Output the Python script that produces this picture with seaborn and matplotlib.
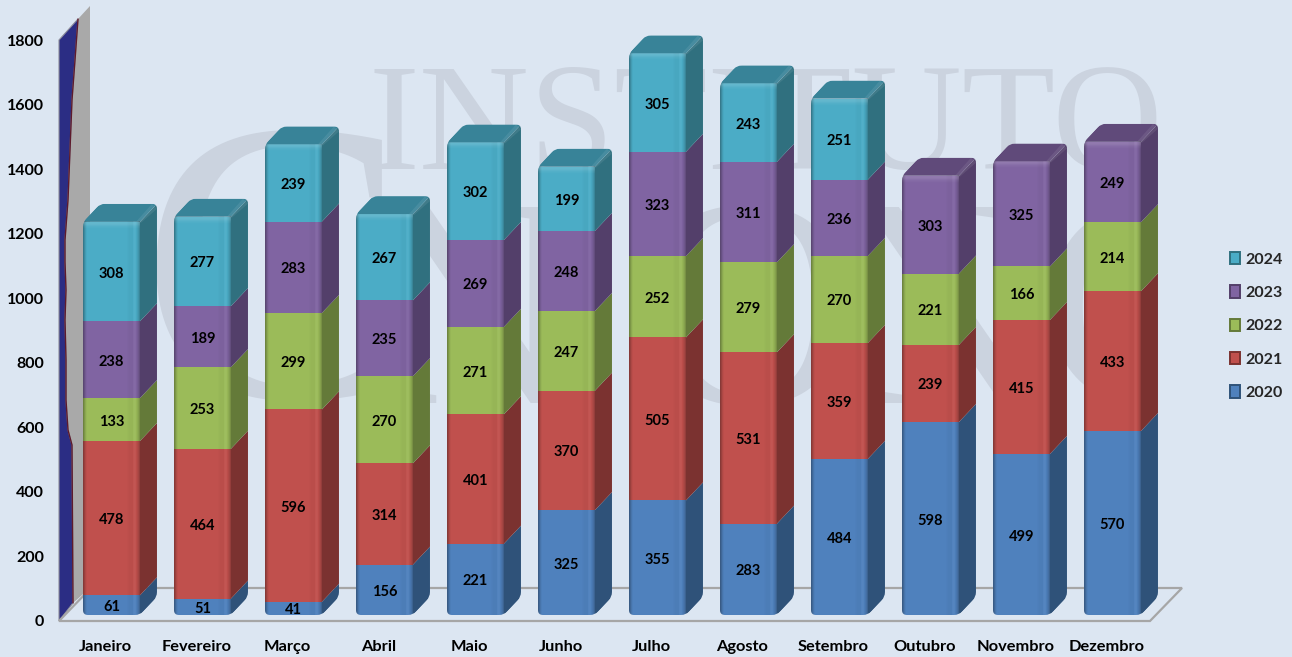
import matplotlib
matplotlib.use("Agg")
import matplotlib.pyplot as plt
from matplotlib.patches import Polygon
from matplotlib.path import Path
from matplotlib.transforms import Bbox, IdentityTransform, ScaledTranslation
import numpy as np
import seaborn as sns

meses = ["Janeiro", "Fevereiro", "Março", "Abril", "Maio", "Junho", "Julho",
         "Agosto", "Setembro", "Outubro", "Novembro", "Dezembro"]
anos = ["2020", "2021", "2022", "2023", "2024"]
v2020 = [61, 51, 41, 156, 221, 325, 355, 283, 484, 598, 499, 570]
v2021 = [478, 464, 596, 314, 401, 370, 505, 531, 359, 239, 415, 433]
v2022 = [133, 253, 299, 270, 271, 247, 252, 279, 270, 221, 166, 214]
v2023 = [238, 189, 283, 235, 269, 248, 323, 311, 236, 303, 325, 249]
v2024 = [308, 277, 239, 267, 302, 199, 305, 243, 251]  # sem dados de out a dez
series = [v2020, v2021, v2022, v2023, v2024]

frente = ["#4F81BD", "#C0504D", "#9BBB59", "#8064A2", "#4BACC6"]
lado = ["#2F5279", "#7B3230", "#647A39", "#533F6A", "#30707F"]
topo = ["#35608F", "#8F3C3A", "#748C42", "#604A7A", "#388398"]

W, H = 1292, 657
FUNDO = "#DCE6F2"
MARCA = "#CBD3DF"
DX, DY = 17, 18  # profundidade das barras em pixels


def px(x, y):
    return (x, H - y)


sns.set_theme(style="white")
plt.rcParams["font.family"] = ["Lato", "DejaVu Sans"]

fig = plt.figure(figsize=(W / 100, H / 100), dpi=100, facecolor=FUNDO)
ax = fig.add_axes([66 / W, (H - 615) / H, (1158 - 66) / W, 581 / H])
ax.set_facecolor("none")
ax.set_zorder(2)

# marca d'agua
fig.text(368 / W, (H - 169) / H, "INSTITUTO", family="Liberation Serif", fontsize=110,
         color=MARCA, zorder=0, va="baseline")
corte = Bbox([[0, 0], [1157, H]])
for letra, xp, yp, tam in [("C", 140, 397, 290), ("N", 360, 403, 215), ("O", 640, 403, 215),
                           ("N", 830, 403, 215), ("C", 1040, 403, 215)]:
    m_txt = fig.text(xp / W, (H - yp) / H, letra, family="Liberation Serif", fontsize=tam,
                     color=MARCA, zorder=0, va="baseline")
    m_txt.set_clip_box(corte)
    m_txt.set_clip_on(True)

# parede e chao do grafico 3D
borda = [(78, 19), (75, 60), (72, 100), (70, 150), (68, 200), (65, 240), (65, 262), (66, 290),
         (65, 320), (66, 360), (66, 400), (68, 430), (72, 445), (73, 603)]
tr = IdentityTransform()
ax.add_patch(Polygon([px(*p) for p in [(90, 6), (90, 588)] + borda[::-1]],
                     closed=True, fc="#A9A9A9", ec="none", transform=tr, clip_on=False, zorder=0.5))
ax.add_patch(Polygon([px(*p) for p in [(59, 621), (59, 40)] + borda],
                     closed=True, fc="#2B2D84", ec="#8D8D9A", lw=0.8, transform=tr, clip_on=False, zorder=0.6))
ax.plot(*zip(*[px(*p) for p in borda]), color="#5E1A2C", lw=1, transform=tr, clip_on=False, zorder=0.7)
ax.add_patch(Polygon([px(*p) for p in [(59, 621), (1150, 621), (1182, 588), (91, 588)]],
                     closed=True, fc="none", ec="#A6A6A6", lw=1.6, transform=tr, clip_on=False, zorder=0.8))

# barras empilhadas
acum = np.zeros(12)
for i, vals in enumerate(series):
    n = len(vals)
    sns.barplot(x=meses[:n], y=vals, order=meses, color=frente[i], saturation=1, width=0.626,
                bottom=acum[:n], label=anos[i], ax=ax, zorder=2, linewidth=0)
    rot = ax.bar_label(ax.containers[-1], label_type="center", fontsize=10.5, fontweight="bold",
                       color="black", zorder=5)
    for r in rot:
        r.set_position((0, -1.5))
    acum[:n] += vals

ax.set_xlim(-0.5, 11.5)
ax.set_ylim(0, 1800)
ax.set_yticks(range(0, 1801, 200))
ax.set_xlabel("")
ax.set_ylabel("")
sns.despine(ax=ax, left=True, bottom=True)
ax.tick_params(axis="y", length=0, pad=16, labelsize=11.5)
ax.tick_params(axis="x", length=0, pad=18, labelsize=11.8)
for t in ax.get_yticklabels():
    t.set_fontweight("bold")
    t.set_color("black")
    t.set_transform(t.get_transform() + ScaledTranslation(0, -0.06, fig.dpi_scale_trans))
for t in ax.get_xticklabels():
    t.set_fontweight("bold")
    t.set_color("black")
    t.set_transform(t.get_transform() + ScaledTranslation(-0.06, 0, fig.dpi_scale_trans))


def contorno_redondo(pts, r):
    # poligono com cantos arredondados, em pixels
    verts, codes = [], []
    n = len(pts)
    for k in range(n):
        p = np.array(pts[k], float)
        a = np.array(pts[k - 1], float)
        b = np.array(pts[(k + 1) % n], float)
        p1 = p + (a - p) / np.linalg.norm(a - p) * r
        p2 = p + (b - p) / np.linalg.norm(b - p) * r
        verts += [p1, p, p2]
        codes += [Path.LINETO if k else Path.MOVETO, Path.CURVE3, Path.CURVE3]
    verts.append(verts[0])
    codes.append(Path.CLOSEPOLY)
    return Path(verts, codes)


# faces laterais, topo e brilho, a partir das barras desenhadas pelo seaborn
pilhas = {}
for i, cont in enumerate(ax.containers):
    for rect in cont.patches:
        m = int(round(rect.get_x() + rect.get_width() / 2))
        pilhas.setdefault(m, []).append((i, rect))

brilho = np.zeros((1, 57, 4))
brilho[0, :4, 3] = [0.3, 0.2, 0.1, 0.03]
brilho[0, 44:50, 3] = [0.01, 0.02, 0.03, 0.03, 0.03, 0.03]
brilho[0, 50:53, :3] = 1
brilho[0, 50:53, 3] = [0.02, 0.04, 0.03]
brilho[0, 53:, 3] = [0.03, 0.08, 0.14, 0.22]

for m, pilha in pilhas.items():
    _, primeiro = pilha[0]
    i_topo, ultimo = pilha[-1]
    x0, yb = ax.transData.transform((primeiro.get_x(), 0))
    x1 = x0 + primeiro.get_width() * 91
    yt = ax.transData.transform((0, ultimo.get_y() + ultimo.get_height()))[1]
    silhueta = contorno_redondo([(x0, yb), (x1, yb), (x1 + DX, yb + DY), (x1 + DX, yt + DY),
                                 (x0 + DX, yt + DY), (x0, yt)], 5)
    for i, rect in pilha:
        y0 = ax.transData.transform((0, rect.get_y()))[1]
        y1 = ax.transData.transform((0, rect.get_y() + rect.get_height()))[1]
        rect.set_clip_path(silhueta, tr)
        face = Polygon([(x1, y0), (x1 + DX, y0 + DY), (x1 + DX, y1 + DY), (x1, y1)], closed=True,
                       fc=lado[i], ec="none", transform=tr, zorder=2)
        ax.add_patch(face)
        face.set_clip_path(silhueta, tr)
    tampa = Polygon([(x0, yt), (x1, yt), (x1 + DX, yt + DY), (x0 + DX, yt + DY)], closed=True,
                    fc=topo[i_topo], ec="none", transform=tr, zorder=2.1)
    ax.add_patch(tampa)
    tampa.set_clip_path(silhueta, tr)
    # aresta clara entre topo e lado
    canto = Polygon([(x1 - 4, yt), (x1 + 1, yt - 1), (x1 + DX, yt + DY - 5), (x1 + DX - 5, yt + DY)], closed=True,
                    fc="white", alpha=0.08, ec="none", transform=tr, zorder=2.2)
    ax.add_patch(canto)
    canto.set_clip_path(silhueta, tr)
    # gradiente horizontal da face frontal
    ytop_dado = ultimo.get_y() + ultimo.get_height()
    im = ax.imshow(brilho, extent=[primeiro.get_x(), primeiro.get_x() + primeiro.get_width(), 0, ytop_dado],
                   aspect="auto", interpolation="bilinear", zorder=2.5)
    im.set_clip_path(silhueta, tr)
    # faixa clara no alto da face frontal
    faixa = np.ones((8, 1, 4))
    faixa[:, 0, 3] = [0.14, 0.14, 0.12, 0.08, 0.05, 0.03, 0.01, 0]
    im2 = ax.imshow(faixa, extent=[primeiro.get_x(), primeiro.get_x() + primeiro.get_width(),
                                   ytop_dado - 8 / 0.3228, ytop_dado],
                    aspect="auto", interpolation="bilinear", zorder=2.6)
    im2.set_clip_path(silhueta, tr)

ax.set_xlim(-0.5, 11.5)
ax.set_ylim(0, 1800)

alcas, rotulos = ax.get_legend_handles_labels()
leg = ax.legend(alcas[::-1], rotulos[::-1], loc="center left", frameon=False,
                bbox_to_anchor=(1216 / W, (H - 326) / H), bbox_transform=fig.transFigure,
                labelspacing=1.17, handlelength=0.62, handleheight=0.8, handletextpad=0.3,
                prop={"weight": "bold", "size": 11.5})
for h, esc in zip(leg.legend_handles, lado[::-1]):
    h.set_edgecolor(esc)
    h.set_linewidth(1.4)

fig.savefig("out.png", facecolor=FUNDO)
plt.close(fig)
